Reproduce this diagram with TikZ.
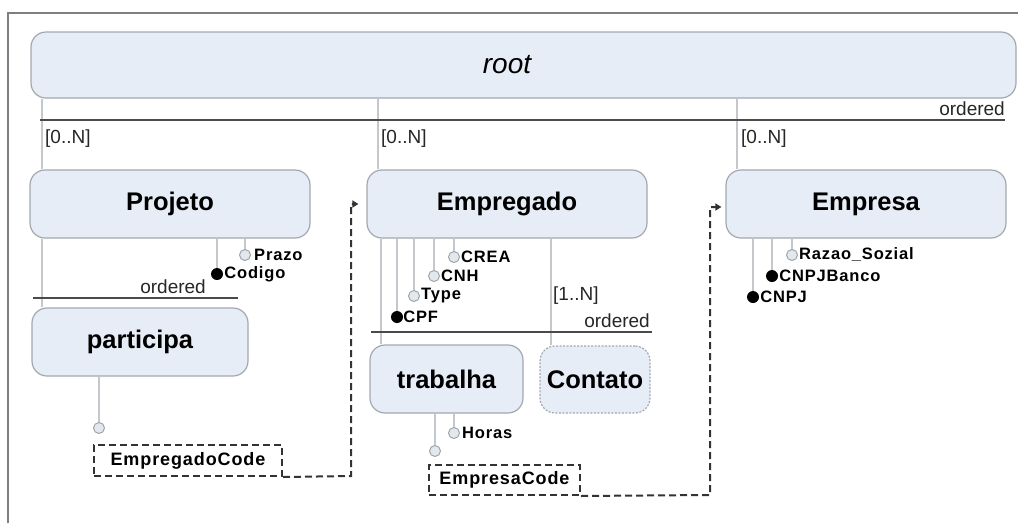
\documentclass[tikz,border=0pt]{standalone}
\usepackage{fontspec}
\setmainfont{Liberation Sans}
\newfontfamily\attrfont[LetterSpace=5]{Liberation Sans}
\usetikzlibrary{arrows.meta}

\definecolor{boxfill}{HTML}{E7EDF6}
\definecolor{boxline}{HTML}{A3A8AE}
\definecolor{treeline}{HTML}{C4C7CB}
\definecolor{barline}{HTML}{4A4A4A}
\definecolor{frameline}{HTML}{7F7F7F}
\definecolor{attrfill}{HTML}{E3E8EF}
\definecolor{attrline}{HTML}{9EA4AB}

\tikzset{
  entity/.style={draw=boxline, fill=boxfill, line width=1.2pt, rounded corners=15pt,
    inner sep=0pt, font=\fontsize{25.5}{29}\selectfont\bfseries},
  optentity/.style={entity, dash pattern=on 2pt off 1.5pt},
  tree/.style={draw=treeline, line width=1.3pt},
  bar/.style={draw=barline, line width=2.2pt},
  small/.style={font=\fontsize{19}{21}\selectfont, text=black!85, inner sep=0pt},
  attrlbl/.style={font=\attrfont\fontsize{16.5}{18}\selectfont\bfseries, inner sep=0pt},
  attr/.style={circle, draw=attrline, fill=attrfill, line width=1pt,
    minimum size=11pt, inner sep=0pt},
  keyattr/.style={circle, fill=black, minimum size=12pt, inner sep=0pt},
  refbox/.style={draw=black!80, line width=2pt, dash pattern=on 7pt off 4pt,
    inner sep=0pt, font=\attrfont\fontsize{18}{20}\selectfont\bfseries},
  refline/.style={draw=black!80, line width=2pt, dash pattern=on 7pt off 4pt,
    -{Triangle[length=6pt,width=7pt]}},
}

\begin{document}
\begin{tikzpicture}[x=1pt, y=-1pt]
  \useasboundingbox (0,0) rectangle (1018,523);

  % outer frame (top and left edges)
  \draw[frameline, line width=2.5pt] (8,523) -- (8,13) -- (1018,13);

  % entities
  \node[entity, minimum width=985pt, minimum height=66pt] (root) at (523.5,65) {};
  \node[font=\fontsize{28}{30}\selectfont\itshape, inner sep=0pt] (rootlbl) at (507,65) {root};

  \node[entity, minimum width=280pt, minimum height=68pt] (projeto)   at (170,204)   {Projeto};
  \node[entity, minimum width=280pt, minimum height=68pt] (empregado) at (507,204)   {Empregado};
  \node[entity, minimum width=280pt, minimum height=68pt] (empresa)   at (866,204)   {Empresa};
  \node[entity, minimum width=216pt, minimum height=68pt] (participa) at (140,342)   {participa};
  \node[entity, minimum width=153pt, minimum height=68pt] (trabalha)  at (446.5,379) {trabalha};
  \node[optentity, minimum width=110pt, minimum height=67pt] (contato) at (595,379.5) {Contato};

  % root children
  \coordinate (rbarL) at (40,120);
  \coordinate (rbarR) at (1005,120);
  \draw[tree] (root.south -| 42,0) -- (projeto.north -| 42,0);
  \draw[tree] (root.south -| 378,0) -- (empregado.north -| 378,0);
  \draw[tree] (root.south -| 737,0) -- (empresa.north -| 737,0);
  \draw[bar] (rbarL) -- (rbarR);
  \node[small, anchor=south east] (rord) at ([yshift=4]rbarR) {ordered};
  \node[small, anchor=west] (c1) at (45,139) {[0..N]};
  \node[small, anchor=west] (c2) at (381,139) {[0..N]};
  \node[small, anchor=west] (c3) at (741,139) {[0..N]};

  % Projeto
  \node[attr]    (prazo)  at (245,255) {};
  \node[keyattr] (codigo) at (217,274) {};
  \draw[tree] (projeto.south -| prazo) -- (prazo);
  \draw[tree] (projeto.south -| codigo) -- (codigo);
  \node[attrlbl, anchor=west] (prazolbl)  at ([xshift=3]prazo.east)  {Prazo};
  \node[attrlbl, anchor=west] (codigolbl) at ([xshift=1]codigo.east) {Codigo};
  \draw[tree] (projeto.south -| 42,0) -- (participa.north -| 42,0);
  \coordinate (pbarL) at (33,298);
  \coordinate (pbarR) at (238,298);
  \draw[bar] (pbarL) -- (pbarR);
  \node[small, anchor=south east] (pord) at (206,294) {ordered};

  % participa
  \node[attr] (pref) at (99,428) {};
  \draw[tree] (participa.south -| pref) -- (pref);
  \node[refbox, minimum width=188pt, minimum height=31pt] (empcode) at (188,460.5) {EmpregadoCode};
  \coordinate (empturn) at (351,476);
  \draw[refline] (empcode.south east) -- (empturn) |- ([xshift=-8]empregado.west);

  % Empregado
  \node[attr]    (crea) at (454,257) {};
  \node[attr]    (cnh)  at (434,276) {};
  \node[attr]    (type) at (414,296) {};
  \node[keyattr] (cpf)  at (397,317) {};
  \foreach \a in {crea,cnh,type,cpf} \draw[tree] (empregado.south -| \a) -- (\a);
  \node[attrlbl, anchor=west] (crealbl) at ([xshift=1]crea.east) {CREA};
  \node[attrlbl, anchor=west] (cnhlbl)  at ([xshift=1]cnh.east)  {CNH};
  \node[attrlbl, anchor=west] (typelbl) at ([xshift=1]type.east) {Type};
  \node[attrlbl, anchor=west] (cpflbl)  at ([xshift=0]cpf.east)  {CPF};
  \draw[tree] (empregado.south -| 381,0) -- (trabalha.north -| 381,0);
  \draw[tree] (empregado.south -| 551,0) -- (contato.north -| 551,0);
  \coordinate (ebarL) at (371,332);
  \coordinate (ebarR) at (652,332);
  \draw[bar] (ebarL) -- (ebarR);
  \node[small, anchor=west] (c4) at (553,296) {[1..N]};
  \node[small, anchor=south east] (eord) at (650,328) {ordered};

  % trabalha
  \node[attr] (horas) at (454,433) {};
  \node[attr] (tref)  at (435,451) {};
  \draw[tree] (trabalha.south -| horas) -- (horas);
  \draw[tree] (trabalha.south -| tref) -- (tref);
  \node[attrlbl, anchor=west] (horaslbl) at ([xshift=2]horas.east) {Horas};
  \node[refbox, minimum width=151pt, minimum height=30pt] (emprcode) at (504.5,480) {EmpresaCode};
  \coordinate (emprturn) at (710,495);
  \draw[refline] (emprcode.south east) -- (emprturn) |- ([xshift=-4,yshift=-3]empresa.west);

  % Empresa
  \node[attr]    (razao) at (792,255) {};
  \node[keyattr] (cnpjb) at (772,276) {};
  \node[keyattr] (cnpj)  at (753,297) {};
  \foreach \a in {razao,cnpjb,cnpj} \draw[tree] (empresa.south -| \a) -- (\a);
  \node[attrlbl, anchor=west] (razaolbl) at ([xshift=1]razao.east) {Razao\_Sozial};
  \node[attrlbl, anchor=west] (cnpjblbl) at ([xshift=1]cnpjb.east) {CNPJBanco};
  \node[attrlbl, anchor=west] (cnpjlbl)  at ([xshift=1]cnpj.east)  {CNPJ};
\end{tikzpicture}
\end{document}
